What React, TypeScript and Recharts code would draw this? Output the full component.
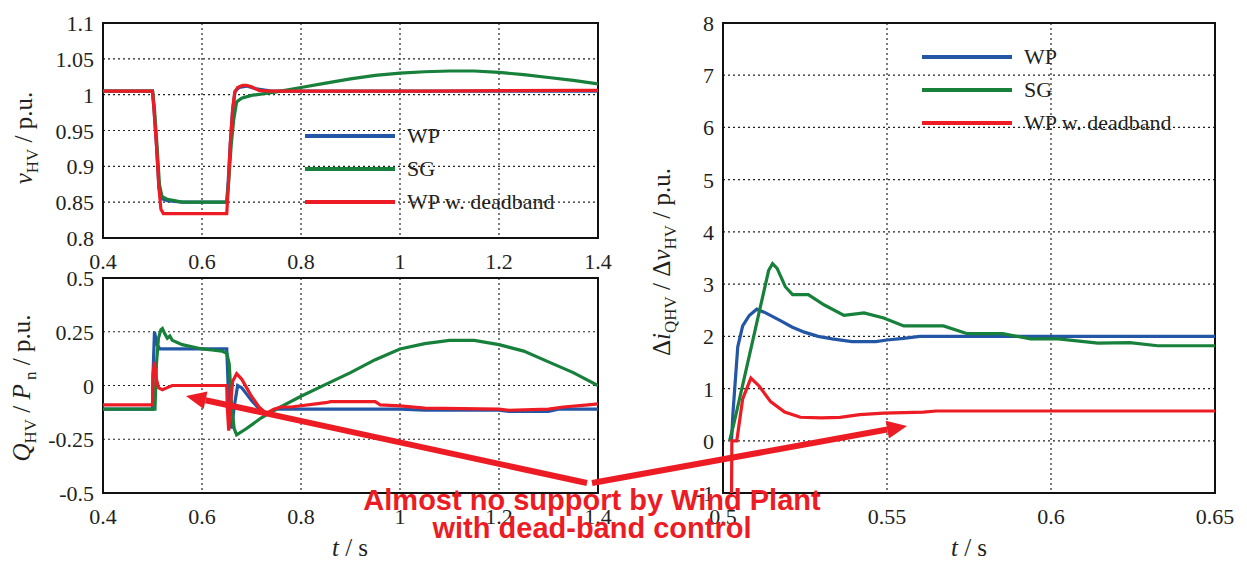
import { LineChart, Line, XAxis, YAxis, CartesianGrid, ReferenceArea, Legend } from "recharts";

const BLUE = "#2456a6";
const GREEN = "#17803b";
const RED = "#ed1c24";
const INK = "#231f20";
const SERIF = "Liberation Serif";
const SANS = "Liberation Sans";

// --- top left: v_HV ---
const vTimeWP = [0.4, 0.5, 0.503, 0.508, 0.513, 0.518, 0.53, 0.56, 0.65, 0.653, 0.657, 0.662, 0.667, 0.675, 0.69, 0.71, 0.74, 1.4];
const vWP = [1.005, 1.005, 0.98, 0.93, 0.87, 0.855, 0.852, 0.85, 0.85, 0.88, 0.93, 0.98, 1.005, 1.01, 1.012, 1.008, 1.005, 1.005];
const vTimeSG = [0.4, 0.5, 0.504, 0.509, 0.514, 0.519, 0.53, 0.56, 0.65, 0.654, 0.659, 0.664, 0.67, 0.68, 0.7, 0.75, 0.8, 0.85, 0.9, 0.95, 1.0, 1.05, 1.1, 1.15, 1.2, 1.25, 1.3, 1.35, 1.4];
const vSG = [1.005, 1.005, 0.98, 0.93, 0.875, 0.858, 0.854, 0.85, 0.85, 0.88, 0.93, 0.965, 0.99, 0.995, 0.999, 1.004, 1.01, 1.016, 1.022, 1.027, 1.03, 1.032, 1.033, 1.033, 1.031, 1.028, 1.024, 1.02, 1.015];
const vTimeDB = [0.4, 0.5, 0.503, 0.508, 0.513, 0.517, 0.522, 0.65, 0.653, 0.657, 0.662, 0.666, 0.672, 0.682, 0.69, 0.7, 0.715, 0.735, 1.05, 1.36, 1.4];
const vDB = [1.005, 1.005, 0.98, 0.93, 0.87, 0.84, 0.834, 0.834, 0.87, 0.93, 0.98, 1.003, 1.01, 1.013, 1.013, 1.011, 1.006, 1.005, 1.005, 1.006, 1.006];

// --- bottom left: Q_HV / P_n ---
const qTimeWP = [0.4, 0.5, 0.501, 0.504, 0.509, 0.515, 0.53, 0.65, 0.652, 0.655, 0.66, 0.665, 0.672, 0.68, 0.7, 0.72, 0.735, 0.75, 0.8, 1.0, 1.05, 1.2, 1.22, 1.3, 1.32, 1.4];
const qWP = [-0.11, -0.11, 0.05, 0.25, 0.19, 0.17, 0.17, 0.17, 0.05, -0.15, -0.2, -0.1, 0, -0.01, -0.07, -0.12, -0.13, -0.11, -0.11, -0.11, -0.115, -0.115, -0.12, -0.12, -0.11, -0.11];
const qTimeSG = [0.4, 0.505, 0.508, 0.512, 0.517, 0.52, 0.525, 0.53, 0.535, 0.54, 0.55, 0.56, 0.58, 0.6, 0.62, 0.64, 0.65, 0.655, 0.66, 0.665, 0.67, 0.69, 0.72, 0.75, 0.8, 0.85, 0.9, 0.95, 1.0, 1.05, 1.1, 1.15, 1.2, 1.25, 1.3, 1.35, 1.4];
const qSG = [-0.11, -0.11, 0.1, 0.22, 0.26, 0.265, 0.24, 0.22, 0.23, 0.21, 0.2, 0.19, 0.18, 0.17, 0.165, 0.16, 0.15, 0.1, -0.1, -0.2, -0.23, -0.2, -0.15, -0.11, -0.05, 0.005, 0.06, 0.12, 0.17, 0.195, 0.21, 0.21, 0.19, 0.16, 0.11, 0.06, 0];
const qTimeDB = [0.4, 0.5, 0.501, 0.504, 0.508, 0.512, 0.52, 0.53, 0.54, 0.65, 0.651, 0.654, 0.657, 0.662, 0.67, 0.68, 0.69, 0.7, 0.715, 0.73, 0.745, 0.76, 0.78, 0.85, 0.86, 0.95, 0.96, 1.0, 1.05, 1.2, 1.22, 1.3, 1.33, 1.38, 1.4];
const qDB = [-0.09, -0.09, 0.05, 0.11, 0.03, -0.01, -0.02, -0.01, 0, 0, -0.1, -0.21, -0.1, 0.02, 0.055, 0.03, -0.01, -0.05, -0.1, -0.13, -0.11, -0.1, -0.1, -0.08, -0.075, -0.075, -0.09, -0.095, -0.105, -0.11, -0.115, -0.11, -0.1, -0.09, -0.085];

// --- right: delta i_QHV / delta v_HV ---
const iTimeWP = [0.5026, 0.503, 0.5045, 0.506, 0.508, 0.5103, 0.513, 0.5175, 0.521, 0.5248, 0.529, 0.5333, 0.5393, 0.5466, 0.55, 0.555, 0.56, 0.65];
const iWP = [0, 0.5, 1.8, 2.2, 2.4, 2.52, 2.45, 2.3, 2.18, 2.08, 2.0, 1.95, 1.9, 1.9, 1.93, 1.96, 2.0, 2.0];
const iTimeSG = [0.502, 0.5034, 0.509, 0.5139, 0.5151, 0.5165, 0.519, 0.5212, 0.526, 0.5309, 0.5369, 0.543, 0.549, 0.5551, 0.5672, 0.5745, 0.5853, 0.5938, 0.6022, 0.6143, 0.624, 0.6325, 0.65];
const iSG = [0, 0.35, 1.9, 3.26, 3.39, 3.3, 2.95, 2.8, 2.8, 2.6, 2.4, 2.45, 2.35, 2.2, 2.2, 2.05, 2.05, 1.95, 1.95, 1.87, 1.88, 1.82, 1.82];
const iTimeDB = [0.5026, 0.5027, 0.5042, 0.506, 0.5085, 0.511, 0.5145, 0.5188, 0.5236, 0.53, 0.5357, 0.5417, 0.549, 0.5611, 0.565, 0.65];
const iDB = [-1, 0, 0, 0.8, 1.2, 1.05, 0.75, 0.55, 0.45, 0.44, 0.45, 0.5, 0.53, 0.55, 0.57, 0.57];

const leftTimeTicks = [0.4, 0.6, 0.8, 1, 1.2, 1.4];
const vTicks = [0.8, 0.85, 0.9, 0.95, 1, 1.05, 1.1];
const qTicks = [-0.5, -0.25, 0, 0.25, 0.5];
const rightTimeTicks = [0.5, 0.55, 0.6, 0.65];
const iTicks = [-1, 0, 1, 2, 3, 4, 5, 6, 7, 8];

const seriesNames = ["WP", "SG", "WP w. deadband"];
const seriesColors = [BLUE, GREEN, RED];

const zip = (t: number[], v: number[]) => t.map((x, i) => ({ t: x, v: v[i] }));

function XTick(p: any) {
  return (
    <g transform={`translate(${p.x},${p.y})`}>
      <text x={0} y={0} dy={17} textAnchor="middle" fontFamily={SERIF} fontSize={22} fill={INK}>
        {String(p.payload.value)}
      </text>
    </g>
  );
}

function YTick(p: any) {
  return (
    <g transform={`translate(${p.x},${p.y})`}>
      <text x={0} y={0} dy={8} textAnchor="end" fontFamily={SERIF} fontSize={22} fill={INK}>
        {String(p.payload.value)}
      </text>
    </g>
  );
}

const LegendBox = () => (
  <div style={{ fontFamily: SERIF, fontSize: 22, color: INK }}>
    {seriesNames.map((name, i) => (
      <div key={name} style={{ display: "flex", alignItems: "center", height: 33 }}>
        <span style={{ display: "inline-block", width: 90, height: 4, background: seriesColors[i], marginRight: 12 }} />
        <span>{name}</span>
      </div>
    ))}
  </div>
);

function Panel(props: {
  width: number;
  height: number;
  yWidth: number;
  right: number;
  xDomain: [number, number];
  yDomain: [number, number];
  xTicks: number[];
  yTicks: number[];
  yMargin: number;
  series: { t: number; v: number }[][];
  legend?: { left: number; top: number };
}) {
  const { xDomain, yDomain } = props;
  return (
    <LineChart width={props.width} height={props.height} margin={{ top: 23, right: props.right, bottom: 0, left: 0 }}>
      <CartesianGrid stroke="#222" strokeDasharray="2 3" strokeWidth={1.2} />
      <XAxis
        type="number"
        dataKey="t"
        domain={xDomain}
        ticks={props.xTicks}
        interval={0}
        allowDataOverflow
        height={45}
        axisLine={false}
        tickSize={0}
        tickMargin={14}
        tick={XTick}
      />
      <YAxis
        type="number"
        domain={yDomain}
        ticks={props.yTicks}
        interval={0}
        allowDataOverflow
        width={props.yWidth}
        axisLine={false}
        tickSize={0}
        tickMargin={props.yMargin}
        tick={YTick}
      />
      {props.series.map((d, i) => (
        <Line
          key={seriesNames[i]}
          name={seriesNames[i]}
          data={d}
          dataKey="v"
          type="linear"
          stroke={seriesColors[i]}
          strokeWidth={3.2}
          dot={false}
          isAnimationActive={false}
        />
      ))}
      <ReferenceArea
        x1={xDomain[0]}
        x2={xDomain[1]}
        y1={yDomain[0]}
        y2={yDomain[1]}
        fill="none"
        stroke="#111"
        strokeWidth={2}
        ifOverflow="visible"
      />
      {props.legend && (
        <Legend
          layout="vertical"
          align="center"
          verticalAlign="middle"
          content={<LegendBox />}
          wrapperStyle={{ left: props.legend.left, top: props.legend.top, width: 280 }}
        />
      )}
    </LineChart>
  );
}

function arrow(x1: number, y1: number, x2: number, y2: number) {
  const dx = x1 - x2;
  const dy = y1 - y2;
  const len = Math.hypot(dx, dy);
  const ux = dx / len;
  const uy = dy / len;
  const bx = x2 + ux * 20;
  const by = y2 + uy * 20;
  const px = -uy * 9;
  const py = ux * 9;
  return (
    <g>
      <line x1={x1} y1={y1} x2={bx} y2={by} stroke={RED} strokeWidth={6} />
      <polygon points={`${x2},${y2} ${bx + px},${by + py} ${bx - px},${by - py}`} fill={RED} />
    </g>
  );
}

export default function App() {
  return (
    <div
      style={{
        position: "absolute",
        left: 0,
        top: 0,
        width: 1247,
        height: 561,
        background: "#fff",
        overflow: "hidden",
        fontFamily: SERIF,
      }}
    >
      <div style={{ position: "absolute", left: 0, top: 0 }}>
        <Panel
          width={620}
          height={283}
          yWidth={103}
          right={22}
          xDomain={[0.4, 1.4]}
          yDomain={[0.8, 1.1]}
          xTicks={leftTimeTicks}
          yTicks={vTicks}
          yMargin={9}
          series={[zip(vTimeWP, vWP), zip(vTimeSG, vSG), zip(vTimeDB, vDB)]}
          legend={{ left: 305, top: 119 }}
        />
      </div>
      <div style={{ position: "absolute", left: 0, top: 255 }}>
        <Panel
          width={620}
          height={283}
          yWidth={103}
          right={22}
          xDomain={[0.4, 1.4]}
          yDomain={[-0.5, 0.5]}
          xTicks={leftTimeTicks}
          yTicks={qTicks}
          yMargin={9}
          series={[zip(qTimeWP, qWP), zip(qTimeSG, qSG), zip(qTimeDB, qDB)]}
        />
      </div>
      <div style={{ position: "absolute", left: 620, top: 0 }}>
        <Panel
          width={627}
          height={538}
          yWidth={103}
          right={32}
          xDomain={[0.5, 0.65]}
          yDomain={[-1, 8]}
          xTicks={rightTimeTicks}
          yTicks={iTicks}
          yMargin={9}
          series={[zip(iTimeWP, iWP), zip(iTimeSG, iSG), zip(iTimeDB, iDB)]}
          legend={{ left: 302, top: 40 }}
        />
      </div>
      <svg width={1247} height={561} style={{ position: "absolute", left: 0, top: 0, pointerEvents: "none" }}>
        <g fontFamily={SERIF} fill={INK} fontSize={25}>
          <text transform="translate(32,138) rotate(-90)" textAnchor="middle">
            <tspan fontStyle="italic">v</tspan>
            <tspan fontSize={17} dy={6}>HV</tspan>
            <tspan dy={-6}> / p.u.</tspan>
          </text>
          <text transform="translate(30,388) rotate(-90)" textAnchor="middle">
            <tspan fontStyle="italic">Q</tspan>
            <tspan fontSize={17} dy={6}>HV</tspan>
            <tspan dy={-6}> / </tspan>
            <tspan fontStyle="italic">P</tspan>
            <tspan fontSize={17} dy={6}> n</tspan>
            <tspan dy={-6}> / p.u.</tspan>
          </text>
          <text transform="translate(670,262) rotate(-90)" textAnchor="middle">
            <tspan>Δ</tspan>
            <tspan fontStyle="italic">i</tspan>
            <tspan fontSize={17} dy={6}>QHV</tspan>
            <tspan dy={-6}> / Δ</tspan>
            <tspan fontStyle="italic">v</tspan>
            <tspan fontSize={17} dy={6}>HV</tspan>
            <tspan dy={-6}> / p.u.</tspan>
          </text>
          <text x={350} y={556} textAnchor="middle">
            <tspan fontStyle="italic">t</tspan> / s
          </text>
          <text x={969} y={556} textAnchor="middle">
            <tspan fontStyle="italic">t</tspan> / s
          </text>
        </g>
        {arrow(587, 483, 186, 396)}
        {arrow(592, 483, 907, 426)}
        <g fontFamily={SANS} fontWeight={700} fill={RED} fontSize={29} textAnchor="middle">
          <text x={592} y={510}>Almost no support by Wind Plant</text>
          <text x={592} y={538}>with dead-band control</text>
        </g>
      </svg>
    </div>
  );
}
